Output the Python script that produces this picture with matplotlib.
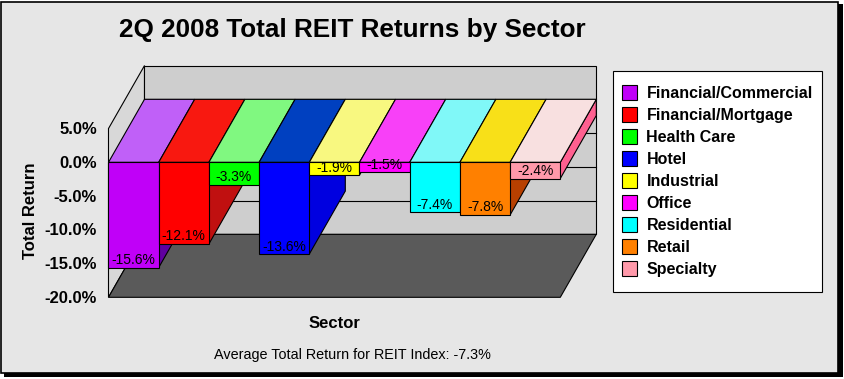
import matplotlib
matplotlib.use('Agg')
import matplotlib.pyplot as plt
from matplotlib.patches import Polygon, Rectangle

plt.rcParams['font.family'] = ['Liberation Sans', 'DejaVu Sans']

sectors = ['Financial/Commercial', 'Financial/Mortgage', 'Health Care', 'Hotel',
           'Industrial', 'Office', 'Residential', 'Retail', 'Specialty']
returns = [-15.6, -12.1, -3.3, -13.6, -1.9, -1.5, -7.4, -7.8, -2.4]
front_colors = ['#c000f8', '#ff0000', '#00ff00', '#0000ff', '#ffff00',
                '#ff00ff', '#00ffff', '#ff8000', '#ff99aa']
top_colors = ['#c060f8', '#f81810', '#80f880', '#0040c0', '#f8f880',
              '#f840f8', '#80f8f8', '#f8e018', '#f8e0e0']
side_colors = ['#6000a0', '#c01010', '#00c000', '#0000e0', '#c0c000',
               '#c000c0', '#00c0c0', '#b84000', '#ff6090']
y_ticks = [5, 0, -5, -10, -15, -20]
title = '2Q 2008 Total REIT Returns by Sector'
note = 'Average Total Return for REIT Index: -7.3%'

# layout in pixels, y grows downward
W, H = 845, 379
X0 = 108.5
BAR_W = 50.2
DX, DY = 36, 63
Y_ZERO = 162.3
PX_PER_PCT = 6.75
LW = 0.8


def vy(v):
    """Pixel row of a return value on the front plane"""
    return Y_ZERO - v * PX_PER_PCT


def face(ax, pts, color, z=2):
    ax.add_patch(Polygon(pts, closed=True, facecolor=color, edgecolor='black', lw=LW, zorder=z))


fig = plt.figure(figsize=(W / 100, H / 100), dpi=100, facecolor='white')
ax = fig.add_axes([0, 0, 1, 1])
ax.set_xlim(0, W)
ax.set_ylim(H, 0)
ax.axis('off')

# panel with drop shadow
ax.add_patch(Rectangle((4, 4), 839, 373, facecolor='black', edgecolor='none', zorder=0))
ax.add_patch(Rectangle((1.5, 1.5), 837, 371.5, facecolor='#e6e6e6', edgecolor='black', lw=1.2, zorder=1))

# walls and floor
x1 = X0 + BAR_W * len(sectors)
top, bot = vy(max(y_ticks)), vy(min(y_ticks))
face(ax, [(X0, top), (X0 + DX, top - DY), (X0 + DX, bot - DY), (X0, bot)], '#d8d8d8')
face(ax, [(X0 + DX, top - DY), (x1 + DX, top - DY), (x1 + DX, bot - DY), (X0 + DX, bot - DY)], '#cecece')
face(ax, [(X0, bot), (X0 + DX, bot - DY), (x1 + DX, bot - DY), (x1, bot)], '#5a5a5a')
for t in y_ticks[1:-1]:
    ax.plot([X0 + DX, x1 + DX], [vy(t) - DY, vy(t) - DY], color='black', lw=LW, zorder=2)

# sides, then tops, then fronts
for i, v in enumerate(returns):
    r = X0 + BAR_W * (i + 1)
    face(ax, [(r, vy(0)), (r + DX, vy(0) - DY), (r + DX, vy(v) - DY), (r, vy(v))], side_colors[i], 3)
for i, v in enumerate(returns):
    l, r = X0 + BAR_W * i, X0 + BAR_W * (i + 1)
    face(ax, [(l, vy(0)), (l + DX, vy(0) - DY), (r + DX, vy(0) - DY), (r, vy(0))], top_colors[i], 4)
for i, v in enumerate(returns):
    l = X0 + BAR_W * i
    ax.add_patch(Rectangle((l, vy(0)), BAR_W, vy(v) - vy(0), facecolor=front_colors[i],
                           edgecolor='black', lw=LW, zorder=5))
    ax.text(l + BAR_W / 2, vy(v) - 3.6, '%.1f%%' % v, ha='center', va='baseline', fontsize=10, zorder=6)

for t in y_ticks:
    ax.text(97, vy(t) + 5.5, '%.1f%%' % t, ha='right', va='baseline', fontsize=12, fontweight='bold', zorder=6)

ax.text(352, 36.5, title, ha='center', va='baseline', fontsize=18.8, fontweight='bold', zorder=6)
ax.text(38.5, 211, 'Total Return', rotation=90, ha='right', va='center', rotation_mode='default',
        fontsize=12, fontweight='bold', zorder=6)
ax.text(334, 327.5, 'Sector', ha='center', va='baseline', fontsize=12, fontweight='bold', zorder=6)
ax.text(352, 359, note, ha='center', va='baseline', fontsize=10.4, zorder=6)

# legend box
ax.add_patch(Rectangle((613.5, 70.5), 209, 221, facecolor='white', edgecolor='black', lw=LW, zorder=2))
for i, name in enumerate(sectors):
    ax.add_patch(Rectangle((622.5, 84.5 + 22 * i), 15, 15, facecolor=front_colors[i],
                           edgecolor='black', lw=LW, zorder=3))
    ax.text(646.5, 98 + 22 * i, name, ha='left', va='baseline', fontsize=11.5, fontweight='bold', zorder=3)

fig.savefig('out.png', dpi=100)
